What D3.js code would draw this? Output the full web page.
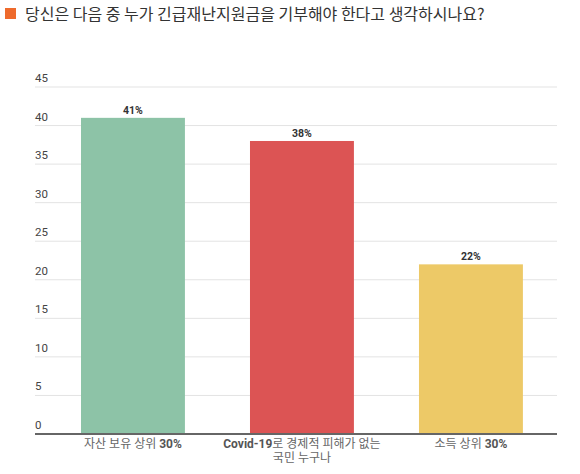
<!DOCTYPE html>
<html><head><meta charset="utf-8">
<script src="https://cdn.jsdelivr.net/npm/d3@7"></script>
<style>body{margin:0;background:#fff;} svg{display:block;}</style>
</head><body>
<svg id="c" width="580" height="474"></svg>
<script>
const title = "당신은 다음 중 누가 긴급재난지원금을 기부해야 한다고 생각하시나요?";
const categories = ["자산 보유 상위 30%", "Covid-19로 경제적 피해가 없는 국민 누구나", "소득 상위 30%"];
const labelLines = [
  [[["자산 보유 상위 ", false], ["30%", true]]],
  [[["Covid-19", true], ["로 경제적 피해가 없는", false]], [["국민 누구나", false]]],
  [[["소득 상위 ", false], ["30%", true]]]
];
const values = [41, 38, 22];
const valueLabels = ["41%", "38%", "22%"];
const colors = ["#8DC3A7", "#DC5454", "#EDC967"];
const yTicks = [0, 5, 10, 15, 20, 25, 30, 35, 40, 45];

const svg = d3.select("#c");
const font = "Roboto, 'Noto Sans CJK KR', sans-serif";

svg.append("rect").attr("x", 5).attr("y", 8).attr("width", 11).attr("height", 11).attr("fill", "#EE6A2C");
svg.append("text").attr("x", 25).attr("y", 19.5).attr("font-family", "'Noto Sans CJK KR', sans-serif")
  .attr("font-size", 16).attr("fill", "#333").text(title);

const y = d3.scaleLinear().domain([0, 45]).range([434, 87]);
const x = d3.scaleBand().domain(categories).range([47.2, 556.7]).paddingInner(0.385).paddingOuter(0.2);

const grid = svg.append("g");
yTicks.forEach(t => {
  if (t > 0) grid.append("line").attr("x1", 35).attr("x2", 557).attr("y1", y(t)).attr("y2", y(t))
    .attr("stroke", "#e3e3e3").attr("stroke-width", 1);
  grid.append("text").attr("x", 35).attr("y", y(t) - 5).attr("font-family", font).attr("font-size", 11.5)
    .attr("fill", "#444").text(t);
});

svg.selectAll("rect.bar").data(values).enter().append("rect").attr("class", "bar")
  .attr("x", (d, i) => x(categories[i])).attr("width", x.bandwidth())
  .attr("y", d => y(d)).attr("height", d => y(0) - y(d)).attr("fill", (d, i) => colors[i]);

svg.selectAll("text.val").data(values).enter().append("text").attr("class", "val")
  .attr("x", (d, i) => x(categories[i]) + x.bandwidth() / 2).attr("y", d => y(d) - 4)
  .attr("text-anchor", "middle").attr("font-family", font).attr("font-size", 10.5).attr("font-weight", "bold")
  .attr("fill", "#333").text((d, i) => valueLabels[i]);

svg.append("line").attr("x1", 35).attr("x2", 557).attr("y1", y(0)).attr("y2", y(0))
  .attr("stroke", "#666").attr("stroke-width", 2);

categories.forEach((c, i) => {
  const cx = x(c) + x.bandwidth() / 2;
  labelLines[i].forEach((line, li) => {
    const t = svg.append("text").attr("x", cx).attr("y", 448 + li * 14).attr("text-anchor", "middle")
      .attr("font-family", font).attr("font-size", 12);
    line.forEach(([s, b]) => {
      t.append("tspan").attr("font-weight", b ? "bold" : "normal").attr("fill", b ? "#555" : "#666").text(s);
    });
  });
});
</script>
</body></html>
